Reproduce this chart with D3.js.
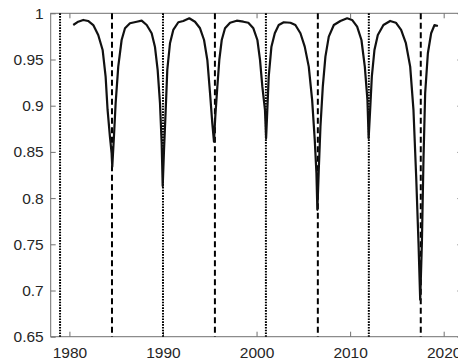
<!DOCTYPE html>
<html>
<head>
<meta charset="utf-8">
<script src="https://cdn.jsdelivr.net/npm/d3@7"></script>
<style>
  body { margin: 0; background: #fff; }
</style>
</head>
<body>
<svg id="chart" width="458" height="364"></svg>
<script>
// curve
var years = [1980.41, 1980.94, 1981.48, 1982.00, 1982.55, 1983.08, 1983.55, 1983.87, 1984.08, 1984.33,
  1984.51, 1984.58, 1984.76, 1984.94, 1985.22, 1985.58, 1985.94, 1986.47, 1987.19, 1987.72,
  1988.26, 1988.79, 1989.14, 1989.43, 1989.68, 1989.86, 1989.97, 1990.11, 1990.29, 1990.46,
  1990.75, 1991.10, 1991.64, 1992.17, 1992.81, 1993.42, 1993.96, 1994.39, 1994.74, 1995.03,
  1995.27, 1995.45, 1995.59, 1995.81, 1996.02, 1996.28, 1996.63, 1997.17, 1997.88, 1998.59,
  1999.12, 1999.66, 2000.09, 2000.37, 2000.62, 2000.90, 2001.02, 2001.12, 2001.30, 2001.59,
  2001.95, 2002.37, 2002.91, 2003.62, 2004.15, 2004.69, 2005.15, 2005.58, 2005.94, 2006.22,
  2006.40, 2006.50, 2006.65, 2006.83, 2007.08, 2007.36, 2007.72, 2008.26, 2008.96, 2009.68,
  2010.21, 2010.75, 2011.21, 2011.57, 2011.85, 2011.98, 2012.14, 2012.32, 2012.60, 2012.96,
  2013.56, 2014.28, 2014.89, 2015.45, 2015.96, 2016.42, 2016.77, 2017.06, 2017.31, 2017.49,
  2017.67, 2017.84, 2018.02, 2018.31, 2018.66, 2019.02, 2019.38];
var values = [0.9873, 0.9909, 0.9928, 0.9917, 0.9873, 0.9765, 0.9603, 0.9315, 0.8954, 0.8666,
  0.8486, 0.834, 0.8666, 0.9027, 0.9423, 0.9711, 0.9838, 0.9892, 0.9909, 0.992,
  0.9873, 0.9784, 0.9639, 0.9387, 0.9027, 0.8594, 0.813, 0.8522, 0.8954, 0.9387,
  0.9676, 0.982, 0.9903, 0.9917, 0.9946, 0.9909, 0.9838, 0.9711, 0.9495, 0.9135,
  0.8811, 0.8612, 0.8882, 0.9206, 0.9495, 0.9711, 0.9838, 0.9898, 0.992, 0.9909,
  0.9898, 0.9838, 0.9711, 0.9495, 0.9206, 0.8954, 0.8649, 0.8882, 0.9315, 0.9639,
  0.9784, 0.9873, 0.9903, 0.9898, 0.9873, 0.9784, 0.9639, 0.9423, 0.9063, 0.863,
  0.827, 0.7873, 0.8306, 0.8774, 0.9206, 0.9531, 0.9747, 0.9873, 0.9917, 0.9946,
  0.9928, 0.9855, 0.9711, 0.9423, 0.9063, 0.8649, 0.8954, 0.9315, 0.9603, 0.9765,
  0.9873, 0.9917, 0.9898, 0.982, 0.9676, 0.9423, 0.8954, 0.8233, 0.7513, 0.69,
  0.7513, 0.8414, 0.9135, 0.9568, 0.9784, 0.9873, 0.9863];

var dottedYears = [1979.0, 1990.0, 2001.0, 2012.0];
var dashedYears = [1984.55, 1995.55, 2006.55, 2017.55];

var xTicks = [1980, 1990, 2000, 2010, 2020];
var yTicks = [0.65, 0.7, 0.75, 0.8, 0.85, 0.9, 0.95, 1];

var svg = d3.select("#chart"),
  mLeft = 50.7, mTop = 13.3, mRight = 462.4, mBottom = 336.7,
  axisColor = "#707070", font = "Liberation Sans, Arial, sans-serif";

var x = d3.scaleLinear().domain([1978, 2022]).range([mLeft, mRight]);
var y = d3.scaleLinear().domain([0.65, 1]).range([mBottom, mTop]);

var data = years.map(function(d, i) { return [d, values[i]]; });

function style(g) {
  g.attr("font-size", 15.5).attr("font-family", font);
  g.select(".domain").remove();
  g.selectAll(".tick line").attr("stroke", axisColor);
  g.selectAll(".tick text").attr("fill", "#262626");
}

// axes, ticks pointing inward like matlab
svg.append("g")
  .attr("transform", "translate(0," + mBottom + ")")
  .call(d3.axisBottom(x).tickValues(xTicks).tickFormat(d3.format("d")).tickSize(-5).tickPadding(10.5))
  .call(style);

svg.append("g")
  .attr("transform", "translate(0," + mTop + ")")
  .call(d3.axisTop(x).tickValues(xTicks).tickFormat("").tickSize(-5))
  .call(style);

svg.append("g")
  .attr("transform", "translate(" + mLeft + ",0)")
  .call(d3.axisLeft(y).tickValues(yTicks).tickFormat(function(d) { return d === 1 ? "1" : d3.format(".2~f")(d); }).tickSize(-5).tickPadding(7))
  .call(style);

svg.append("g")
  .attr("transform", "translate(" + mRight + ",0)")
  .call(d3.axisRight(y).tickValues(yTicks).tickFormat("").tickSize(-5))
  .call(style);

svg.append("rect")
  .attr("x", mLeft).attr("y", mTop)
  .attr("width", mRight - mLeft).attr("height", mBottom - mTop)
  .attr("fill", "none").attr("stroke", axisColor).attr("stroke-width", 1);

svg.selectAll(".dotted")
  .data(dottedYears)
  .enter().append("line")
    .attr("class", "dotted")
    .attr("x1", function(d) { return x(d); }).attr("x2", function(d) { return x(d); })
    .attr("y1", mTop).attr("y2", mBottom)
    .attr("stroke", "#000").attr("stroke-width", 2)
    .attr("stroke-dasharray", "1.6,1.2");

svg.selectAll(".dashed")
  .data(dashedYears)
  .enter().append("line")
    .attr("class", "dashed")
    .attr("x1", function(d) { return x(d); }).attr("x2", function(d) { return x(d); })
    .attr("y1", mTop).attr("y2", mBottom)
    .attr("stroke", "#000").attr("stroke-width", 2)
    .attr("stroke-dasharray", "6,3.5");

var line = d3.line()
  .x(function(d) { return x(d[0]); })
  .y(function(d) { return y(d[1]); });

svg.append("path")
  .datum(data)
  .attr("d", line)
  .attr("fill", "none")
  .attr("stroke", "#111")
  .attr("stroke-width", 2.2)
  .attr("stroke-linejoin", "round");
</script>
</body>
</html>
